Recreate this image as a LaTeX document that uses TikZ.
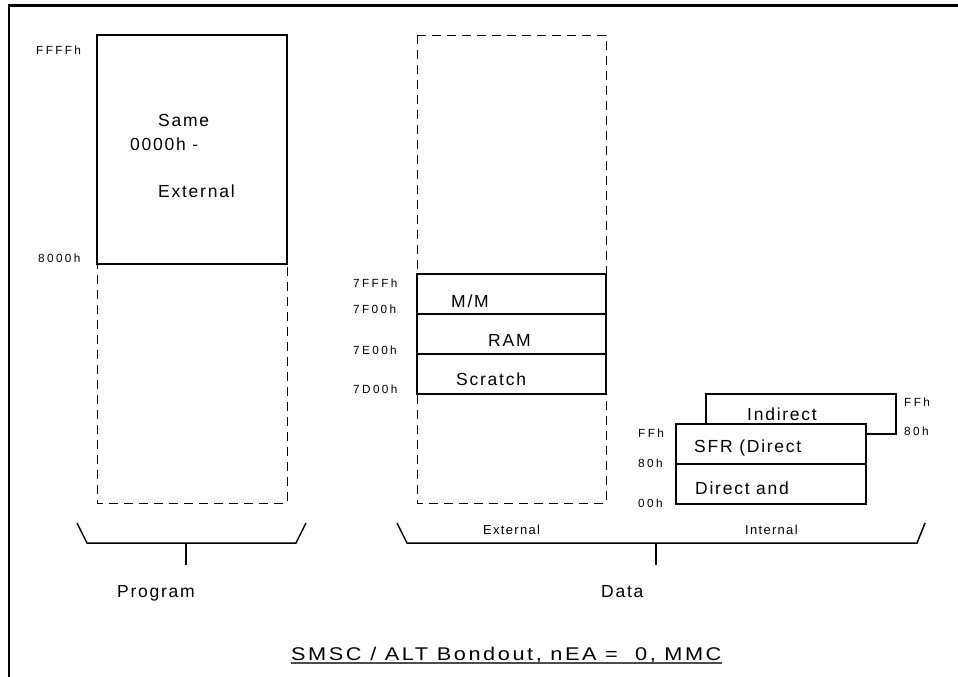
\documentclass[tikz,border=0pt]{standalone}
\usepackage{fontspec}
\setmainfont{Liberation Sans}[LetterSpace=10]
\newfontfamily\smallfont{Liberation Sans}[LetterSpace=20]
\newfontfamily\titlefont{Liberation Sans}[LetterSpace=14,FakeStretch=1.18]
\begin{document}
\begin{tikzpicture}[x=1pt,y=-1pt,
  box/.style={line width=1.6pt},
  dbox/.style={line width=0.8pt,dash pattern=on 9pt off 6pt},
  brc/.style={line width=1.5pt},
  lbl/.style={anchor=base west,inner sep=0pt,font=\smallfont\fontsize{11.8}{14}\selectfont},
  txt/.style={anchor=base west,inner sep=0pt,font=\fontsize{17.5}{20}\selectfont},
  sml/.style={anchor=base west,inner sep=0pt,font=\fontsize{13}{15}\selectfont}]
\useasboundingbox (0,0) rectangle (958,677);
% frame
\draw[line width=2.6pt] (8.5,5.5) -- (958,5.5);
\draw[line width=2pt] (8.5,4.2) -- (8.5,677);
% program
\draw[dbox] (97,35) rectangle (287,503);
\draw[box,fill=white] (97,35) rectangle (287,264);
\node[lbl] (pFFFF) at (36,55) {FFFFh};
\node[lbl] (p8000) at (38,262) {8000h};
\node[txt] (same) at (158,126) {Same};
\node[txt] (zero) at (130,150) {0000h -};
\node[txt] (ext) at (158,197) {External};
% data external
\draw[dbox] (417,35) rectangle (606,503);
\draw[box,fill=white] (417,274) rectangle (606,394);
\draw[box] (417,314) -- (606,314);
\draw[box] (417,354) -- (606,354);
\node[lbl] (d7FFF) at (353,287) {7FFFh};
\node[lbl] (d7F00) at (353,313) {7F00h};
\node[lbl] (d7E00) at (353,354) {7E00h};
\node[lbl] (d7D00) at (353,393) {7D00h};
\node[txt] (mm) at (451,307) {M/M};
\node[txt] (ram) at (488,346) {RAM};
\node[txt] (scr) at (456,385) {Scratch};
% data internal
\draw[box] (706,394) rectangle (896,434);
\draw[box,fill=white] (676,424) rectangle (866,504);
\draw[box] (676,464) -- (866,464);
\node[txt] (ind) at (747,420) {Indirect};
\node[txt] (sfr) at (694,452) {SFR (Direct};
\node[txt] (dir) at (695,494) {Direct and};
\node[lbl] (iFFr) at (904,406) {FFh};
\node[lbl] (i80r) at (904,435) {80h};
\node[lbl] (iFFl) at (638,437) {FFh};
\node[lbl] (i80l) at (638,467) {80h};
\node[lbl] (i00l) at (638,507) {00h};
% braces
\draw[brc] (77,523) -- (87,543) -- (296,543) -- (306,523);
\draw[brc] (186,543) -- (186,565);
\draw[brc] (397,523) -- (407,543) -- (917,543) -- (925,523);
\draw[brc] (656,543) -- (656,565);
\node[sml] (bext) at (483,534) {External};
\node[sml] (bint) at (745,534) {Internal};
\node[txt] (prog) at (117,597) {Program};
\node[txt] (data) at (601,597) {Data};
% title
\node[anchor=base west,inner sep=0pt,font=\titlefont\fontsize{18.4}{21}\selectfont] (title) at (291,660) {SMSC / ALT Bondout, nEA =\ \ 0, MMC};
\draw[line width=1.4pt,black!70] ([yshift=-2.8pt]title.base west) -- ([yshift=-2.8pt]title.base east);
\end{tikzpicture}
\end{document}
